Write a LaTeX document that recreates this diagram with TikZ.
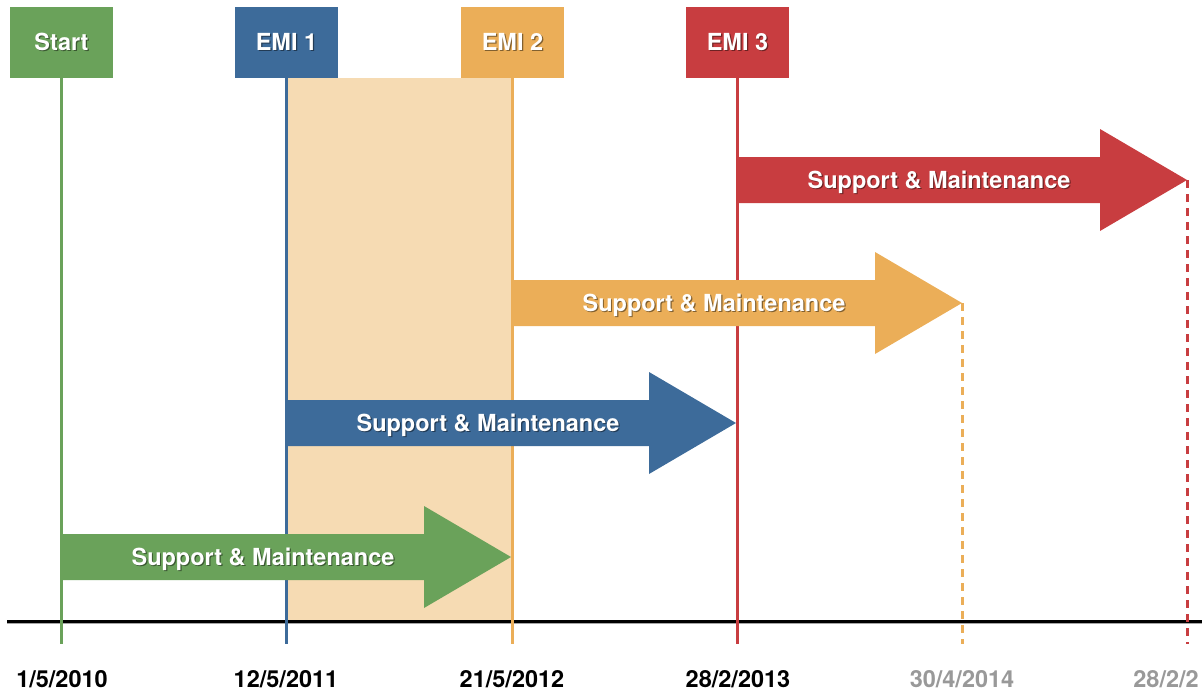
\documentclass[tikz,border=0pt]{standalone}
\usepackage{fontspec}
\setmainfont{TeX Gyre Heros}
\usetikzlibrary{calc}
\definecolor{cgreen}{RGB}{106,162,90}
\definecolor{cblue}{RGB}{61,107,154}
\definecolor{corange}{RGB}{235,174,88}
\definecolor{cred}{RGB}{200,61,64}
\definecolor{cbeige}{RGB}{246,219,179}
\definecolor{cgray}{RGB}{153,153,153}
\newcommand\shtxt[2]{\makebox[0pt][l]{\hspace{0.6pt}\raisebox{-0.6pt}{\textcolor{#1}{#2}}}#2}
\begin{document}
\begin{tikzpicture}[x=0.5pt,y=-0.5pt,
  lbl/.style={font=\fontsize{11.75}{14}\selectfont\bfseries, text=white, inner sep=0pt},
  box/.style={lbl, minimum width=51.5pt, minimum height=35.5pt},
  vline/.style={line width=1.5pt},
  dline/.style={line width=1.5pt, dash pattern=on 4pt off 3pt},
  datelbl/.style={font=\fontsize{11.75}{14}\selectfont\bfseries, inner sep=0pt}]
\useasboundingbox (0,0) rectangle (1202,690);
% top boxes
\node[box,fill=cgreen] (start) at (61.5,42.5) {\shtxt{cgreen!55!black}{Start}};
\node[box,fill=cblue] (emi1) at (286.5,42.5) {\shtxt{cblue!55!black}{EMI 1}};
\node[box,fill=corange] (emi2) at (512.5,42.5) {\shtxt{corange!55!black}{EMI 2}};
\node[box,fill=cred] (emi3) at (737.5,42.5) {\shtxt{cred!55!black}{EMI 3}};
% shaded period
\fill[cbeige] (287,78) rectangle (511,621);
% timeline
\coordinate (base) at (0,644);
\coordinate (tl) at (7,621);
\coordinate (tr) at (1202,621);
\draw[line width=0.8pt,black!35] ($(tl)+(0,2.5)$) -- ($(tr)+(0,2.5)$);
\draw[line width=1.5pt] (tl) -- (tr);
% vertical lines
\draw[vline,cgreen] (start.south) -- (start.south |- base);
\draw[vline,cblue] (emi1.south) -- (emi1.south |- base);
\draw[vline,corange] (emi2.south) -- (emi2.south |- base);
\draw[vline,cred] (emi3.south) -- (emi3.south |- base);
% arrows
\foreach \x/\y/\c/\n in {61/557/cgreen/a0, 286/423/cblue/a1, 512/303/corange/a2, 737/180/cred/a3}{
  \fill[\c] (\x,\y-23) -- (\x+363,\y-23) -- (\x+363,\y-51) -- (\x+450,\y)
     -- (\x+363,\y+51) -- (\x+363,\y+23) -- (\x,\y+23) -- cycle;
  \coordinate (\n tip) at (\x+450,\y);
  \node[lbl,anchor=base] (\n) at (\x+202,\y+8.5) {\shtxt{\c!55!black}{Support \& Maintenance}};
}
% dashed ends
\draw[dline,corange] (a2tip) -- (a2tip |- base);
\draw[dline,cred] (a3tip) -- (a3tip |- base);
% dates
\node[datelbl] (d0) at (62,679) {1/5/2010};
\node[datelbl] (d1) at (286,679) {12/5/2011};
\node[datelbl] (d2) at (512,679) {21/5/2012};
\node[datelbl] (d3) at (738,679) {28/2/2013};
\node[datelbl,text=cgray] (d4) at (962,679) {30/4/2014};
\node[datelbl,text=cgray,anchor=west] (d5) at (1133,679) {28/2/2};
\end{tikzpicture}
\end{document}
